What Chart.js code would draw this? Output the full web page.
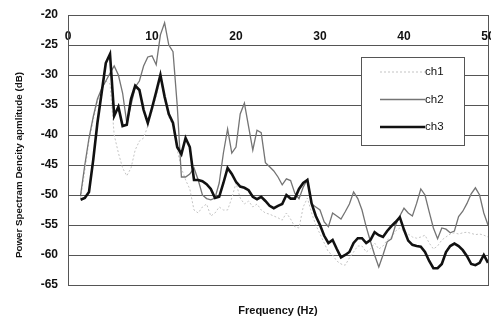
<!DOCTYPE html>
<html>
<head>
<meta charset="utf-8">
<script src="https://cdn.jsdelivr.net/npm/chart.js@4"></script>
<style>
  html, body { margin: 0; padding: 0; background: #fff; }
  canvas { display: block; }
</style>
</head>
<body>
<canvas id="psdChart" width="491" height="320"></canvas>
<script>
// frequency axis (Hz)
const freqs = [
  1.5, 2, 2.5, 3, 3.5, 4, 4.5, 5, 5.5, 6,
  6.5, 7, 7.5, 8, 8.5, 9, 9.5, 10, 10.5, 11,
  11.5, 12, 12.5, 13, 13.5, 14, 14.5, 15, 15.5, 16,
  16.5, 17, 17.5, 18, 18.5, 19, 19.5, 20, 20.5, 21,
  21.5, 22, 22.5, 23, 23.5, 24, 24.5, 25, 25.5, 26,
  26.5, 27, 27.5, 28, 28.5, 29, 29.5, 30, 30.5, 31,
  31.5, 32, 32.5, 33, 33.5, 34, 34.5, 35, 35.5, 36,
  36.5, 37, 37.5, 38, 38.5, 39, 39.5, 40, 40.5, 41,
  41.5, 42, 42.5, 43, 43.5, 44, 44.5, 45, 45.5, 46,
  46.5, 47, 47.5, 48, 48.5, 49, 49.5, 50
]

const ch1 = [
  -50.5, -46, -41, -37.5, -34.5, -32.5, -31, -31.5, -40, -43,
  -45.5, -46.8, -45.5, -42.5, -41, -40.5, -38.5, -36, -33.5, -30.5,
  -34, -37, -38.5, -42.5, -45.5, -47.5, -49, -52.5, -53, -52,
  -51.5, -53.5, -53, -52, -52.5, -52.5, -50.5, -48, -50.5, -51.5,
  -51, -52, -51.5, -52.5, -53, -53.2, -53.5, -53.8, -54.2, -53,
  -54, -55.3, -55.5, -52, -50.5, -53, -55, -56.5, -58, -59.5,
  -60, -61, -61.5, -61.7, -60.5, -59.5, -58.5, -58.5, -59.5, -59,
  -58, -59, -58.5, -57.5, -57, -56, -55.5, -56, -56.5, -57,
  -57.2, -57, -56.7, -58, -59, -58.5, -57.5, -57, -56.5, -56.3,
  -56.5, -56.3, -56.2, -56.4, -56.6, -56.5, -56.7, -57
]

const ch2 = [
  -50, -45, -40.5, -37, -34, -32.3, -31, -29.7, -28.5, -30,
  -33, -38, -35, -32, -31, -28.5, -27, -26.8, -28.3, -23.3,
  -21.3, -25, -26.1, -35, -47, -47, -46.5, -45.5, -47.5, -50,
  -50.6, -50.8, -50.5, -48, -43, -39, -43, -42, -36.5, -34.7,
  -38.6, -42.5, -39.2, -39.6, -44.6, -45.3, -46, -47, -48.3, -47.3,
  -47.6, -49.7, -50.6, -48.7, -47.4, -51.5, -52, -52.5, -54.5, -55.3,
  -53, -53.5, -54, -52.8, -51.5, -49.5, -50.6, -52.5, -55.3, -57.7,
  -60, -62, -60, -57.8, -57.3, -55, -53.5, -52.2, -53, -53.5,
  -51.4, -49, -50, -52.8, -55.5, -57.3, -55.5, -55.7, -56.3, -56,
  -53.6, -52.7, -51.4, -49.8, -48.8, -50, -53, -55
]

const ch3 = [
  -50.8, -50.5, -49.5, -44.2, -38, -33, -28, -26.5, -36.8, -35.3,
  -38.5, -38.3, -34, -31.8, -32.5, -35.8, -38, -35.5, -32.8, -30,
  -33.6, -36.5, -38, -42, -43.2, -40.5, -42, -47.5, -47.5, -47.7,
  -48.2, -49, -50.5, -50.3, -48, -45.5, -46.5, -47.8, -48.6, -48.8,
  -49.2, -50.3, -50.7, -50.3, -51, -51.8, -52.2, -51.8, -51.5, -50,
  -50.6, -50.6, -49, -48, -47.5, -51.4, -53.5, -55, -56.8, -58,
  -57.5, -59, -60.4, -60, -59.5, -58, -57.2, -57.2, -58, -57.5,
  -56.2, -56.7, -57, -56, -55.2, -54.5, -53.7, -55.8, -57.6, -58.3,
  -58.5, -58.6, -59.5, -61, -62.2, -62.2, -61.5, -59.5, -58.5, -58.1,
  -58.5, -59.2, -60.2, -61.5, -61.7, -61.3, -60, -61.3
]

const seriesNames = ['ch1', 'ch2', 'ch3']
const yTitle = 'Power Spectram Dencity apmlitude (dB)'

const gridColor = '#555'
const fontFamily = '"Liberation Sans", Arial, sans-serif'
const tickFont = { family: fontFamily, size: 12, weight: 'bold' }

const toPoints = (vals) => freqs.map((f, i) => ({ x: f, y: vals[i] }))

// legend drawn as a framed box inside the plot, like the original
const boxLegend = {
  id: 'boxLegend',
  afterDraw(chart) {
    const { ctx, chartArea } = chart
    const x = chartArea.right - 127
    const y = chartArea.top + 42
    const w = 103
    const h = 88
    ctx.save()
    ctx.fillStyle = '#fff'
    ctx.fillRect(x, y, w, h)
    ctx.strokeStyle = gridColor
    ctx.lineWidth = 1
    ctx.strokeRect(x + 0.5, y + 0.5, w, h)
    chart.data.datasets.forEach((ds, i) => {
      const ly = y + 15 + i * 27.5
      ctx.beginPath()
      ctx.setLineDash(ds.borderDash || [])
      ctx.strokeStyle = ds.borderColor
      ctx.lineWidth = ds.borderWidth
      ctx.moveTo(x + 19, ly)
      ctx.lineTo(x + 64, ly)
      ctx.stroke()
      ctx.setLineDash([])
      ctx.fillStyle = '#111'
      ctx.font = '11.5px ' + fontFamily
      ctx.textBaseline = 'middle'
      ctx.fillText(ds.label, x + 64, ly)
    })
    ctx.restore()
  }
}

// y title sits a bit below the middle of the axis in the original
const sideTitle = {
  id: 'sideTitle',
  afterDraw(chart) {
    const { ctx, chartArea } = chart
    ctx.save()
    ctx.translate(19.5, (chartArea.top + chartArea.bottom) / 2 + 15)
    ctx.rotate(-Math.PI / 2)
    ctx.fillStyle = '#111'
    ctx.font = 'bold 9.8px ' + fontFamily
    ctx.textAlign = 'center'
    ctx.textBaseline = 'middle'
    ctx.fillText(yTitle, 0, 0)
    ctx.restore()
  }
}

const ctx = document.getElementById('psdChart').getContext('2d')

const chart = new Chart(ctx, {
  type: 'line',
  data: {
    datasets: [
      {
        label: seriesNames[0],
        data: toPoints(ch1),
        borderColor: '#c4c4c4',
        borderWidth: 1,
        borderDash: [2, 2],
        order: 3
      },
      {
        label: seriesNames[1],
        data: toPoints(ch2),
        borderColor: '#747474',
        borderWidth: 1.3,
        order: 2
      },
      {
        label: seriesNames[2],
        data: toPoints(ch3),
        borderColor: '#111',
        borderWidth: 2.6,
        order: 1
      }
    ]
  },
  options: {
    responsive: false,
    animation: false,
    layout: { padding: { top: 15, right: 3, left: 0, bottom: 0 } },
    elements: {
      point: { radius: 0 },
      line: { tension: 0 }
    },
    plugins: {
      legend: { display: false },
      tooltip: { enabled: false }
    },
    scales: {
      x: {
        type: 'linear',
        position: 'bottom',
        min: 0,
        max: 50,
        ticks: { display: false, stepSize: 10 },
        grid: {
          drawTicks: false,
          color: (c) => (c.tick && c.tick.value === 50 ? gridColor : 'transparent')
        },
        border: { display: true, color: gridColor },
        title: {
          display: true,
          text: 'Frequency (Hz)',
          color: '#111',
          font: { family: fontFamily, size: 11, weight: 'bold' },
          padding: { top: 0, bottom: 2 }
        },
        afterFit: (s) => { s.height = 35; s.paddingLeft = 0; s.paddingRight = 0 }
      },
      xTop: {
        type: 'linear',
        axis: 'x',
        position: { y: -20 },
        min: 0,
        max: 50,
        ticks: { stepSize: 10, padding: 14, maxRotation: 0, color: '#111', font: tickFont },
        grid: { display: false, drawTicks: false },
        border: { display: true, color: gridColor },
        afterFit: (s) => { s.height = 0; s.paddingLeft = 0; s.paddingRight = 0 }
      },
      y: {
        min: -65,
        max: -20,
        ticks: { stepSize: 5, padding: 10, color: '#111', font: tickFont },
        grid: { color: gridColor, drawTicks: false },
        border: { display: true, color: gridColor },
        afterFit: (s) => { s.width = 68; s.paddingTop = 0; s.paddingBottom = 0 }
      }
    }
  },
  plugins: [boxLegend, sideTitle]
})
</script>
</body>
</html>
